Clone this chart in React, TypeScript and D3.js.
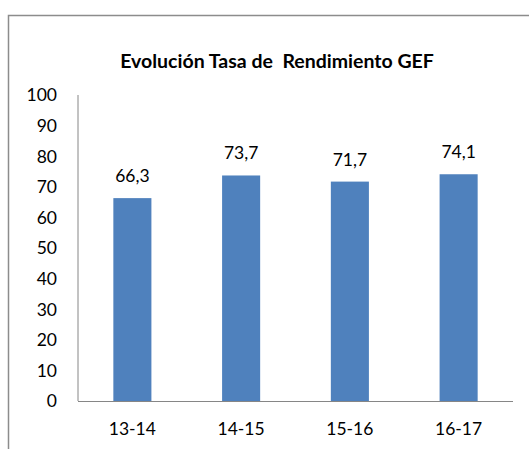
import React from 'react';
import * as d3 from 'd3';

// chart data
const categories = ['13-14', '14-15', '15-16', '16-17'];
const values = [66.3, 73.7, 71.7, 74.1];
const yTicks = [0, 10, 20, 30, 40, 50, 60, 70, 80, 90, 100];
const title = 'Evolución Tasa de  Rendimiento GEF';

const App = () => {
    const width = 529;
    const height = 449;
    const margin = { top: 95, right: 16, bottom: 48, left: 78 };
    const font = 'Lato, "Open Sans", sans-serif';

    const x = d3.scaleBand()
        .domain(categories)
        .range([margin.left, width - margin.right])
        .paddingInner(0.65)
        .paddingOuter(0.325);

    const y = d3.scaleLinear()
        .domain([0, 100])
        .range([height - margin.bottom, margin.top]);

    const fmt = (v: number) => v.toFixed(1).replace('.', ',');

    return (
        <svg width={width} height={height}
            style={{ position: 'absolute', left: 0, top: 0, background: '#fff' }}
            fontFamily={font}>
            {/* outer frame (only top and left visible) */}
            <path d={`M8.5,${height} V15.5 H${width}`} fill="none" stroke="#8c8c8c" strokeWidth={1.5} />

            <text x={277} y={68} textAnchor="middle" fontSize={19.5} fontWeight="bold" fill="#000"
                style={{ whiteSpace: 'pre' }}>{title}</text>

            {/* y axis labels */}
            {yTicks.map(t => (
                <text key={t} x={57} y={y(t)} dy="0.36em" textAnchor="end" fontSize={17.5} fill="#000">{t}</text>
            ))}

            {/* bars */}
            {values.map((v, i) => (
                <rect key={i} x={x(categories[i])} y={y(v)} width={x.bandwidth()}
                    height={y(0) - y(v)} fill="#4F81BD" />
            ))}

            {/* value labels */}
            {values.map((v, i) => (
                <text key={'l' + i} x={(x(categories[i]) ?? 0) + x.bandwidth() / 2} y={y(v) - 16}
                    textAnchor="middle" fontSize={17.5} fill="#000">{fmt(v)}</text>
            ))}

            {/* axes lines */}
            <line x1={margin.left} x2={margin.left} y1={y(100)} y2={y(0)} stroke="#868686" strokeWidth={1} />
            <line x1={margin.left} x2={width - margin.right} y1={y(0) + 0.5} y2={y(0) + 0.5} stroke="#868686" strokeWidth={1} />

            {/* category labels */}
            {categories.map(c => (
                <text key={c} x={(x(c) ?? 0) + x.bandwidth() / 2} y={435} textAnchor="middle"
                    fontSize={17.5} fill="#000">{c}</text>
            ))}
        </svg>
    );
};

export default App;
